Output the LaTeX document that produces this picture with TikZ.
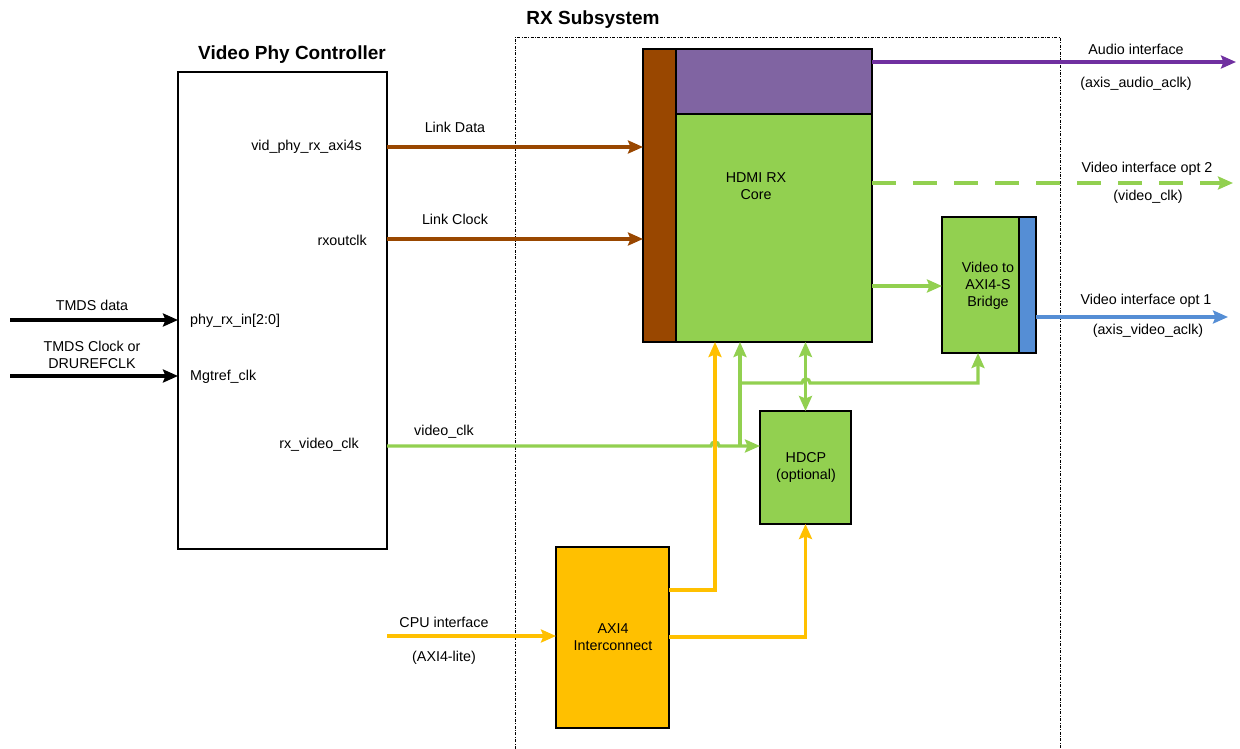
\documentclass[tikz,border=0pt]{standalone}
\usepackage{fontspec}
\setmainfont{Liberation Sans}
\usetikzlibrary{arrows.meta,calc}
\definecolor{cbrown}{RGB}{153,71,0}
\definecolor{cpurplef}{RGB}{128,100,162}
\definecolor{cpurple}{RGB}{112,48,160}
\definecolor{cgreen}{RGB}{146,208,80}
\definecolor{cblue}{RGB}{85,142,213}
\definecolor{cyellow}{RGB}{255,192,0}
\begin{document}
\begin{tikzpicture}[x=1pt,y=-1pt,
  box/.style={draw=black,line width=1.4pt,anchor=north west,inner sep=0pt,outer sep=0pt},
  lbl/.style={font=\fontsize{14.3}{17}\selectfont,inner sep=0pt,align=center},
  ttl/.style={font=\fontsize{19}{22}\selectfont\bfseries,inner sep=0pt},
  tip/.style={-{Stealth[length=15pt,width=13pt,inset=2.5pt]}},
  wire/.style={line width=3.3pt,tip},
  dtip/.style={{Stealth[length=15pt,width=13pt,inset=2.5pt]}-{Stealth[length=15pt,width=13pt,inset=2.5pt]}},
]
\useasboundingbox (0,0) rectangle (1240,749);
% RX subsystem frame
\draw[line width=0.7pt,dash pattern=on 3pt off 1.5pt on 0.8pt off 1.5pt] (515,749) -- (515,37) -- (1060,37) -- (1060,749);
\node[ttl] (rxttl) at (593,20) {RX Subsystem};
% Video Phy Controller
\node[box,line width=1.2pt,minimum width=209pt,minimum height=477pt] (vpc) at (178,72) {};
\node[ttl] (vpcttl) at (292,55) {Video Phy Controller};
\node[lbl,anchor=east] (p1) at (362,147) {vid\_phy\_rx\_axi4s};
\node[lbl,anchor=east] (p2) at (367,240) {rxoutclk};
\node[lbl,anchor=west] (p3) at (190,321) {phy\_rx\_in[2:0]};
\node[lbl,anchor=west] (p4) at (190,377) {Mgtref\_clk};
\node[lbl,anchor=east] (p5) at (359,445) {rx\_video\_clk};
% HDMI RX core
\node[box,fill=cbrown,minimum width=33pt,minimum height=293pt] (strip) at (643,49) {};
\node[box,fill=cpurplef,minimum width=196pt,minimum height=65pt] (aud) at (676,49) {};
\node[box,fill=cgreen,minimum width=196pt,minimum height=228pt] (core) at (676,114) {};
\node[lbl] (coret) at (756,186) {HDMI RX\\Core};
% Bridge
\node[box,fill=cgreen,minimum width=77pt,minimum height=136pt] (br) at (942,217) {};
\node[box,fill=cblue,minimum width=17pt,minimum height=136pt] (brb) at (1019,217) {};
\node[lbl] (brt) at (988,286) {Video to\\AXI4-S\\Bridge};
% HDCP
\node[box,fill=cgreen,minimum width=91pt,minimum height=113pt] (hdcp) at (760,411) {};
\node[lbl] (hdcpt) at (806,467) {HDCP\\(optional)};
% AXI4 Interconnect
\node[box,fill=cyellow,minimum width=113pt,minimum height=181pt] (axi) at (556,547) {};
\node[lbl] (axit) at (613,637) {AXI4\\Interconnect};
% coordinates
\coordinate (tin1) at (10,320);
\coordinate (tin2) at (10,376);
\coordinate (cpu) at (387,636);
\coordinate (audout) at (1236,62);
\coordinate (v2out) at (1233,183);
\coordinate (v1out) at (1228,317);
\coordinate (j1) at (740,446);
\coordinate (j2) at (740,383);
% brown links
\draw[wire,cbrown] (vpc.east |- 0,147) -- (strip.west |- 0,147);
\draw[wire,cbrown] (vpc.east |- 0,239) -- (strip.west |- 0,239);
\node[lbl] (ld) at (455,127) {Link Data};
\node[lbl] (lc) at (455,219) {Link Clock};
% TMDS
\draw[wire,black] (tin1) -- (vpc.west |- tin1);
\draw[wire,black] (tin2) -- (vpc.west |- tin2);
\node[lbl] (td) at (92,305) {TMDS data};
\node[lbl] (tc) at (92,355) {TMDS Clock or\\DRUREFCLK};
% outputs
\draw[wire,cpurple] (aud.east |- audout) -- (audout);
\node[lbl] (ai) at (1136,49) {Audio interface};
\node[lbl] (aic) at (1136,84) {(axis\_audio\_aclk)};
\draw[wire,cgreen,dash pattern=on 24pt off 17pt] (core.east |- v2out) -- (v2out);
\node[lbl] (v2) at (1147,169) {Video interface opt 2};
\node[lbl] (v2c) at (1148,197) {(video\_clk)};
\draw[wire,cblue] (brb.east |- v1out) -- (v1out);
\node[lbl] (v1) at (1146,301) {Video interface opt 1};
\node[lbl] (v1c) at (1148,331) {(axis\_video\_aclk)};
% core to bridge
\draw[wire,cgreen] (core.east |- 0,286) -- (br.west |- 0,286);
% video clk
\draw[wire,cgreen] (vpc.east |- j1) -- (711,446) .. controls (711,440.7) and (719,440.7) .. (719,446) -- (hdcp.west |- j1);
\node[lbl] (vc) at (444,432) {video\_clk};
\draw[wire,cgreen] (j1) -- (core.south -| j1);
\draw[wire,cgreen] (j2) -- (802,383) .. controls (802,377.7) and (810,377.7) .. (810,383) -- (978,383) -- (br.south -| 978,0);
\draw[line width=3.3pt,cgreen,dtip] (core.south -| hdcp.north) -- (hdcp.north);
% CPU
\draw[wire,cyellow] (cpu) -- (axi.west |- cpu);
\node[lbl] (cpi) at (444,622) {CPU interface};
\node[lbl] (cpl) at (444,658) {(AXI4-lite)};
\draw[wire,cyellow] (axi.east |- 0,590) -- (715,590) -- (core.south -| 715,0);
\draw[wire,cyellow] (axi.east |- 0,637) -| (hdcp.south);
\end{tikzpicture}
\end{document}
